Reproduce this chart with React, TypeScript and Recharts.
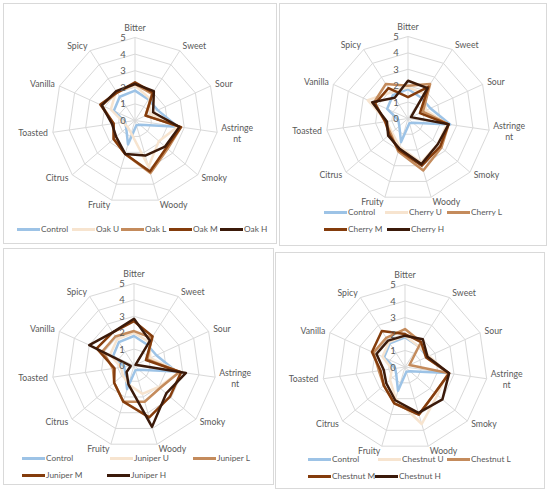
import React from 'react';
import { RadarChart, Radar, PolarGrid, PolarAngleAxis, PolarRadiusAxis } from 'recharts';

const attributes = ['Bitter', 'Sweet', 'Sour', 'Astringent', 'Smoky', 'Woody', 'Fruity', 'Citrus', 'Toasted', 'Vanilla', 'Spicy'];
const radiusDomain = [0, 5];

const control = [1.8, 1.5, 1.5, 2.6, 0.4, 0.3, 1.5, 0.7, 0.6, 1.4, 1.7];

const oakNames = ['Control', 'Oak U', 'Oak L', 'Oak M', 'Oak H'];
const oakU = [2.1, 1.6, 1.0, 2.6, 1.9, 2.9, 0.8, 0.6, 0.7, 1.6, 2.1];
const oakL = [2.2, 1.9, 0.7, 2.8, 2.6, 3.3, 2.1, 1.7, 1.3, 2.2, 2.0];
const oakM = [2.3, 2.0, 0.7, 2.8, 2.5, 3.2, 2.1, 1.7, 1.3, 2.3, 2.0];
const oakH = [2.2, 2.1, 1.2, 2.7, 2.4, 2.2, 2.1, 1.5, 1.4, 2.2, 2.1];

const cherryNames = ['Control', 'Cherry U', 'Cherry L', 'Cherry M', 'Cherry H'];
const cherryU = [1.9, 1.8, 1.2, 2.4, 2.4, 2.8, 1.8, 1.3, 1.3, 2.7, 1.9];
const cherryL = [2.0, 2.5, 1.0, 2.5, 2.7, 3.3, 2.1, 1.4, 1.4, 2.3, 2.5];
const cherryM = [1.3, 2.3, 0.8, 2.5, 2.6, 3.0, 2.0, 1.5, 1.4, 2.2, 2.2];
const cherryH = [2.3, 2.2, 0.2, 2.5, 2.4, 2.9, 1.9, 1.6, 1.3, 2.4, 1.5];

const juniperNames = ['Control', 'Juniper U', 'Juniper L', 'Juniper M', 'Juniper H'];
const juniperU = [2.0, 1.7, 1.1, 2.8, 2.0, 1.8, 1.2, 0.9, 0.8, 1.6, 1.9];
const juniperL = [2.1, 2.0, 0.9, 2.8, 2.1, 2.3, 2.3, 1.6, 1.3, 2.1, 2.1];
const juniperM = [2.7, 2.1, 0.8, 2.9, 2.9, 3.3, 2.3, 1.6, 1.2, 2.5, 2.4];
const juniperH = [2.85, 1.8, 0.1, 3.2, 2.6, 3.9, 1.2, 0.6, 0.2, 3.0, 2.4];

const chestnutNames = ['Control', 'Chestnut U', 'Chestnut L', 'Chestnut M', 'Chestnut H'];
const chestnutU = [1.9, 1.5, 1.6, 2.6, 2.6, 3.6, 2.0, 1.2, 0.8, 1.5, 1.8];
const chestnutL = [2.3, 1.8, 0.3, 2.7, 2.4, 3.0, 2.3, 1.7, 1.6, 2.1, 2.1];
const chestnutM = [2.0, 1.8, 1.4, 2.7, 2.4, 3.0, 2.3, 1.7, 1.5, 2.2, 2.6];
const chestnutH = [1.9, 2.0, 1.5, 2.7, 3.0, 2.9, 2.1, 1.5, 1.3, 1.9, 1.9];

const seriesColors = ['#9dc3e6', '#f7e4cf', '#c48b5c', '#843c0c', '#3b1a0a'];

const FONT = "Lato, 'Noto Sans', sans-serif";
const TEXT = '#595959';
const LABEL_SIZE = 8.7;
const LEGEND_SIZE = 8.3;

type Panel = {
  names: string[];
  series: number[][];
  box: [number, number, number, number];
  cx: number;
  cy: number;
  r: number;
  legend: { top: number; items: number[] }[];
};

const panels: Panel[] = [
  {
    names: oakNames,
    series: [control, oakU, oakL, oakM, oakH],
    box: [3, 3, 274, 241],
    cx: 132, cy: 117.5, r: 83,
    legend: [{ top: 226, items: [14, 69, 118, 166, 217] }],
  },
  {
    names: cherryNames,
    series: [control, cherryU, cherryL, cherryM, cherryH],
    box: [279, 3, 268, 243],
    cx: 129, cy: 115.5, r: 82,
    legend: [
      { top: 209, items: [45, 106, 168] },
      { top: 226, items: [45, 108] },
    ],
  },
  {
    names: juniperNames,
    series: [control, juniperU, juniperL, juniperM, juniperH],
    box: [3, 248, 271, 237],
    cx: 131, cy: 117.5, r: 82,
    legend: [
      { top: 210, items: [19, 107, 190] },
      { top: 227, items: [19, 104] },
    ],
  },
  {
    names: chestnutNames,
    series: [control, chestnutU, chestnutL, chestnutM, chestnutH],
    box: [275, 252, 270, 237],
    cx: 130, cy: 115, r: 82.5,
    legend: [
      { top: 207, items: [33, 103, 172] },
      { top: 224, items: [33, 100] },
    ],
  },
];

const AngleTick = (props: any) => {
  const { x, y, payload, textAnchor } = props;
  const v = payload.value as string;
  if (v === 'Astringent') {
    return (
      <text textAnchor="middle" fontSize={LABEL_SIZE} fill={TEXT} fontFamily={FONT}>
        <tspan x={x + 15} y={y - 2}>Astringe</tspan>
        <tspan x={x + 15} y={y + 9}>nt</tspan>
      </text>
    );
  }
  const dy = v === 'Bitter' ? -2 : 3;
  return (
    <text x={x} y={y + dy} textAnchor={textAnchor} fontSize={LABEL_SIZE} fill={TEXT} fontFamily={FONT}>
      {v}
    </text>
  );
};

const RadiusTick = (props: any) => {
  const { x, y, payload } = props;
  return (
    <text x={x - 12} y={y + 3.5} textAnchor="middle" fontSize={9.5} fill={TEXT} fontFamily={FONT}>
      {payload.value}
    </text>
  );
};

function buildRows(names: string[], series: number[][]) {
  return attributes.map((a, i) => {
    const row: Record<string, any> = { attr: a };
    names.forEach((n, k) => {
      row[n] = series[k][i];
    });
    return row;
  });
}

const PanelChart = ({ p }: { p: Panel }) => {
  const [left, top, w, h] = p.box;
  const rows = buildRows(p.names, p.series);
  let idx = 0;
  return (
    <div
      style={{
        position: 'absolute', left, top, width: w, height: h,
        border: '1px solid #d9d9d9', boxSizing: 'border-box', background: '#fff',
      }}
    >
      <div style={{ position: 'absolute', left: -1, top: -1 }}>
        <RadarChart width={w} height={h} data={rows} cx={p.cx} cy={p.cy} outerRadius={p.r}
          startAngle={90} endAngle={-270} margin={{ top: 0, right: 0, bottom: 0, left: 0 }}>
          <PolarGrid gridType="polygon" stroke="#d9d9d9" strokeWidth={1} />
          <PolarAngleAxis dataKey="attr" tick={AngleTick} tickLine={false} axisLine={false} tickSize={5} />
          <PolarRadiusAxis domain={radiusDomain} tickCount={6} angle={90} axisLine={false} tick={RadiusTick} />
          {p.names.map((n, k) => (
            <Radar key={n} dataKey={n} stroke={seriesColors[k]} strokeWidth={2.5} fill="none"
              fillOpacity={0} dot={false} isAnimationActive={false} strokeLinejoin="round" />
          ))}
        </RadarChart>
      </div>
      {p.legend.map((row, ri) => (
        <React.Fragment key={ri}>
          {row.items.map((lx) => {
            const k = idx++;
            return (
              <div key={k} style={{ position: 'absolute', left: lx - 1, top: row.top - 1 - 6, height: 12, display: 'flex', alignItems: 'center', whiteSpace: 'nowrap' }}>
                <div style={{ width: 23, height: 3, background: seriesColors[k], marginRight: 1, flexShrink: 0 }} />
                <span style={{ fontFamily: FONT, fontSize: LEGEND_SIZE, color: TEXT, lineHeight: '12px' }}>{p.names[k]}</span>
              </div>
            );
          })}
        </React.Fragment>
      ))}
    </div>
  );
};

export default function App() {
  return (
    <div style={{ position: 'absolute', left: 0, top: 0, width: 550, height: 493, background: '#fff' }}>
      {panels.map((p, i) => (
        <PanelChart key={i} p={p} />
      ))}
    </div>
  );
}
